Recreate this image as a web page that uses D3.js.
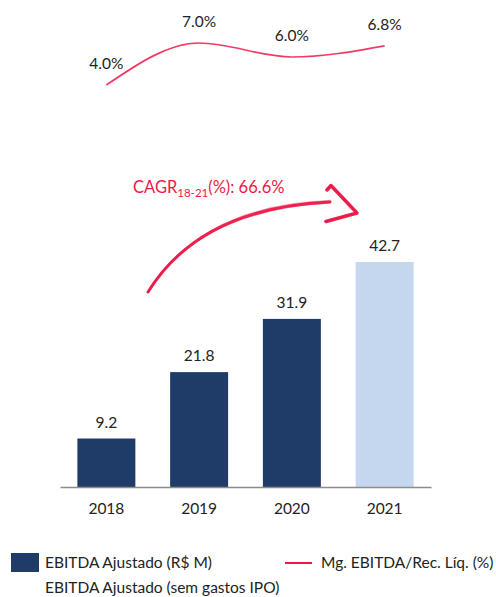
<!DOCTYPE html>
<html>
<head>
<meta charset="utf-8">
<script src="https://cdn.jsdelivr.net/npm/d3@7"></script>
<style>
  body { margin: 0; background: #fff; }
  svg text { font-family: Lato, "Open Sans", sans-serif; fill: #222; }
</style>
</head>
<body>
<script>
 ///////////////////////////////////////////////////////
 // data

 var years = ["2018", "2019", "2020", "2021"];
 var ebitda = [9.2, 21.8, 31.9, 42.7];
 var margem = [4.0, 7.0, 6.0, 6.8];
 var barLabels = ["9.2", "21.8", "31.9", "42.7"];
 var marginLabels = ["4.0%", "7.0%", "6.0%", "6.8%"];
 var semIPO = [false, false, false, true]; // 2021 = sem gastos IPO

 ///////////////////////////////////////////////////////
 // margins

 var w = 496;
 var h = 597;
 var svg = d3.select("body").append("svg")
   .attr("width", w)
   .attr("height", h);

 var baseline = 487;

 ///////////////////////////////////////////////////////
 // scales

 var x = d3.scaleBand()
   .domain(years)
   .range([60, 431])
   .paddingInner(0.375)
   .paddingOuter(0.1875);
 var y = d3.scaleLinear()
   .domain([0, 42.7])
   .range([baseline, 262]);
 var yLine = d3.scaleLinear()
   .domain([4, 7])
   .range([85, 43]);

 var navy = "#1f3b68";
 var light = "#c5d7ef";
 var pink = "#f03c64";
 var red = "#ee1847";

 ///////////////////////////////////////////////////////
 // bars

 svg.selectAll(".bar")
   .data(years)
   .enter().append("rect")
   .attr("class", "bar")
   .attr("x", function(d) { return x(d); })
   .attr("width", x.bandwidth())
   .attr("y", function(d, i) { return y(ebitda[i]); })
   .attr("height", function(d, i) { return baseline - y(ebitda[i]); })
   .style("fill", function(d, i) { return semIPO[i] ? light : navy; });

 svg.selectAll(".barlabel")
   .data(years)
   .enter().append("text")
   .attr("class", "barlabel")
   .attr("x", function(d) { return x(d) + x.bandwidth() / 2; })
   .attr("y", function(d, i) { return y(ebitda[i]) - 11; })
   .attr("text-anchor", "middle")
   .style("font-size", "15.5px")
   .text(function(d, i) { return barLabels[i]; });

 // axis (only the baseline + year labels)
 var xAxis = d3.axisBottom(x).tickSize(0).tickPadding(16);
 var ax = svg.append("g")
   .attr("transform", "translate(0," + baseline + ")")
   .call(xAxis);
 ax.select(".domain").attr("stroke", "#8c8c8c").attr("stroke-width", 1.3);
 ax.selectAll("text")
   .style("font-size", "15.5px")
   .style("font-family", "Lato, sans-serif")
   .attr("fill", "#222");

 ///////////////////////////////////////////////////////
 // margin line

 var line = d3.line()
   .x(function(d, i) { return x(years[i]) + x.bandwidth() / 2; })
   .y(function(d) { return yLine(d); })
   .curve(d3.curveMonotoneX);

 svg.append("path")
   .datum(margem)
   .attr("d", line)
   .attr("fill", "none")
   .attr("stroke", pink)
   .attr("stroke-width", 1.7);

 svg.selectAll(".mlabel")
   .data(margem)
   .enter().append("text")
   .attr("class", "mlabel")
   .attr("x", function(d, i) { return x(years[i]) + x.bandwidth() / 2; })
   .attr("y", function(d) { return yLine(d) - 16; })
   .attr("text-anchor", "middle")
   .style("font-size", "15.5px")
   .text(function(d, i) { return marginLabels[i]; });

 ///////////////////////////////////////////////////////
 // CAGR annotation

 var cagr = svg.append("text")
   .attr("x", 133)
   .attr("y", 193)
   .style("font-size", "16.5px")
   .style("fill", red);
 cagr.append("tspan").text("CAGR");
 cagr.append("tspan").attr("dy", 4).style("font-size", "11.5px").text("18-21");
 cagr.append("tspan").attr("dy", -4).text("(%): 66.6%");

 // brush-like arrow: a few strokes stacked with small offsets
 var strokes = [[0, 3, 0.95], [-1.8, 1.2, 0.5], [1.5, 1, 0.45], [-3.2, 0.8, 0.3]];
 strokes.forEach(function(s) {
   var p = d3.path();
   p.moveTo(148, 292);
   p.quadraticCurveTo(200, 208 + s[0], 330, 202 + s[0] * 0.6);
   svg.append("path")
     .attr("d", p.toString())
     .attr("fill", "none")
     .attr("stroke", red)
     .attr("stroke-width", s[1])
     .attr("stroke-linecap", "round")
     .attr("opacity", s[2]);
   svg.append("path")
     .attr("d", d3.line()([[327 + s[0] * 0.4, 190], [331 + s[0] * 0.4, 185.5], [357, 213], [326 + s[0] * 0.4, 221.5]]))
     .attr("fill", "none")
     .attr("stroke", red)
     .attr("stroke-width", s[1] + 0.5)
     .attr("stroke-linejoin", "round")
     .attr("stroke-linecap", "round")
     .attr("opacity", s[2]);
 });

 ///////////////////////////////////////////////////////
 // legend

 var legend = svg.append("g");
 legend.append("rect")
   .attr("x", 11).attr("y", 553)
   .attr("width", 28).attr("height", 19)
   .style("fill", navy);
 legend.append("text")
   .attr("x", 45).attr("y", 568)
   .style("font-size", "15.5px")
   .text("EBITDA Ajustado (R$ M)");
 legend.append("text")
   .attr("x", 45).attr("y", 593)
   .style("font-size", "15.5px")
   .text("EBITDA Ajustado (sem gastos IPO)");
 legend.append("line")
   .attr("x1", 285).attr("x2", 312)
   .attr("y1", 563).attr("y2", 563)
   .attr("stroke", red)
   .attr("stroke-width", 2);
 legend.append("text")
   .attr("x", 321).attr("y", 568)
   .style("font-size", "15.5px")
   .text("Mg. EBITDA/Rec. Líq. (%)");
</script>
</body>
</html>
